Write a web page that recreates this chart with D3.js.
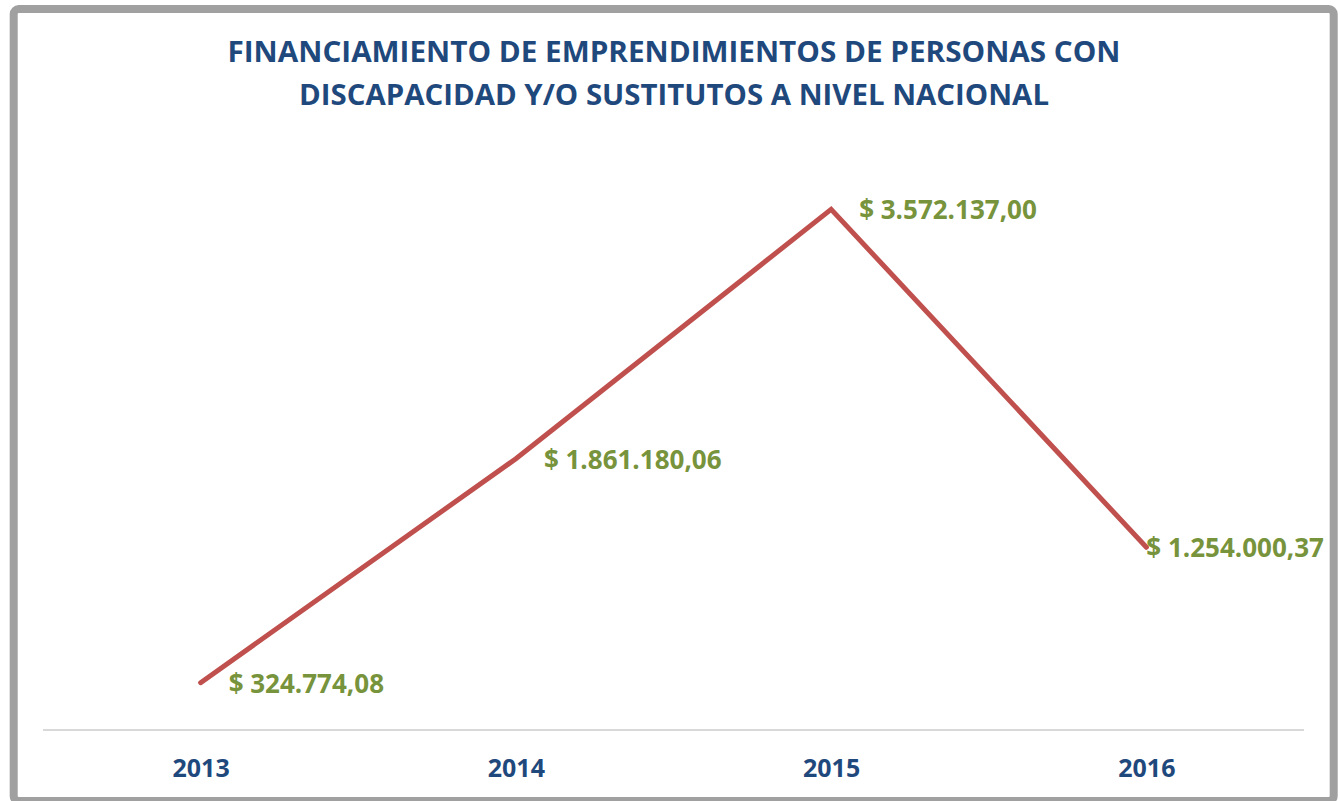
<!DOCTYPE html>
<html>
<head>
<meta charset="utf-8">
<script src="https://cdn.jsdelivr.net/npm/d3@7"></script>
<style>
  html, body { margin: 0; padding: 0; background: #fff; }
  svg { display: block; }
</style>
</head>
<body>
<svg id="chart" width="1340" height="801"></svg>
<script>
const titleLines = [
  "FINANCIAMIENTO DE EMPRENDIMIENTOS DE PERSONAS CON",
  "DISCAPACIDAD Y/O SUSTITUTOS A NIVEL NACIONAL"
];
const years = ["2013", "2014", "2015", "2016"];
const values = [324774.08, 1861180.06, 3572137.00, 1254000.37];
const valueLabels = ["$ 324.774,08", "$ 1.861.180,06", "$ 3.572.137,00", "$ 1.254.000,37"];
const yDomain = [0, 4000000];

const svg = d3.select("#chart");
const font = "'Open Sans', 'Noto Sans', sans-serif";

// frame
svg.append("rect")
  .attr("x", 13.7).attr("y", 9).attr("width", 1320).attr("height", 792)
  .attr("rx", 5).attr("ry", 5)
  .attr("fill", "#fff").attr("stroke", "#a0a0a0").attr("stroke-width", 8);

// title
const title = svg.append("text")
  .attr("font-family", font).attr("font-weight", 700).attr("font-size", 28)
  .attr("fill", "#1f497d").attr("text-anchor", "middle");
const titleWidths = [893, 750];
titleLines.forEach((t, i) => {
  title.append("tspan")
    .attr("x", 674).attr("y", 62 + i * 43)
    .attr("textLength", titleWidths[i]).attr("lengthAdjust", "spacingAndGlyphs")
    .text(t);
});

// scales
const plotLeft = 43, plotRight = 1304, plotTop = 147, plotBottom = 730;
const x = d3.scalePoint().domain(years).range([plotLeft, plotRight]).padding(0.5);
const y = d3.scaleLinear().domain(yDomain).range([plotBottom, plotTop]);

// x axis
const xAxis = svg.append("g")
  .attr("transform", `translate(0,${plotBottom})`)
  .call(d3.axisBottom(x).tickSize(0).tickPadding(0));
xAxis.select(".domain").attr("stroke", "#d9d9d9").attr("stroke-width", 2)
  .attr("d", `M${plotLeft},0H${plotRight}`);
xAxis.selectAll("text")
  .attr("font-family", font).attr("font-weight", 700).attr("font-size", 25)
  .attr("fill", "#1f497d").attr("dy", null).attr("y", 47);

// line
const data = years.map((yr, i) => ({ yr, v: values[i], label: valueLabels[i] }));
const line = d3.line().x(d => x(d.yr)).y(d => y(d.v));
svg.append("path")
  .datum(data)
  .attr("d", line)
  .attr("fill", "none")
  .attr("stroke", "#c0504d")
  .attr("stroke-width", 5)
  .attr("stroke-linejoin", "miter")
  .attr("stroke-linecap", "round");

// data labels
const labels = svg.append("g").selectAll("text").data(data).join("text")
  .attr("font-family", font).attr("font-weight", 700).attr("font-size", 26)
  .attr("fill", "#77933c")
  .attr("y", d => y(d.v) + 10)
  .text(d => d.label);
labels.each(function(d) {
  const w = this.getComputedTextLength();
  const px = x(d.yr) + 28;
  this.setAttribute("x", Math.min(px, 1324 - w));
});
</script>
</body>
</html>
